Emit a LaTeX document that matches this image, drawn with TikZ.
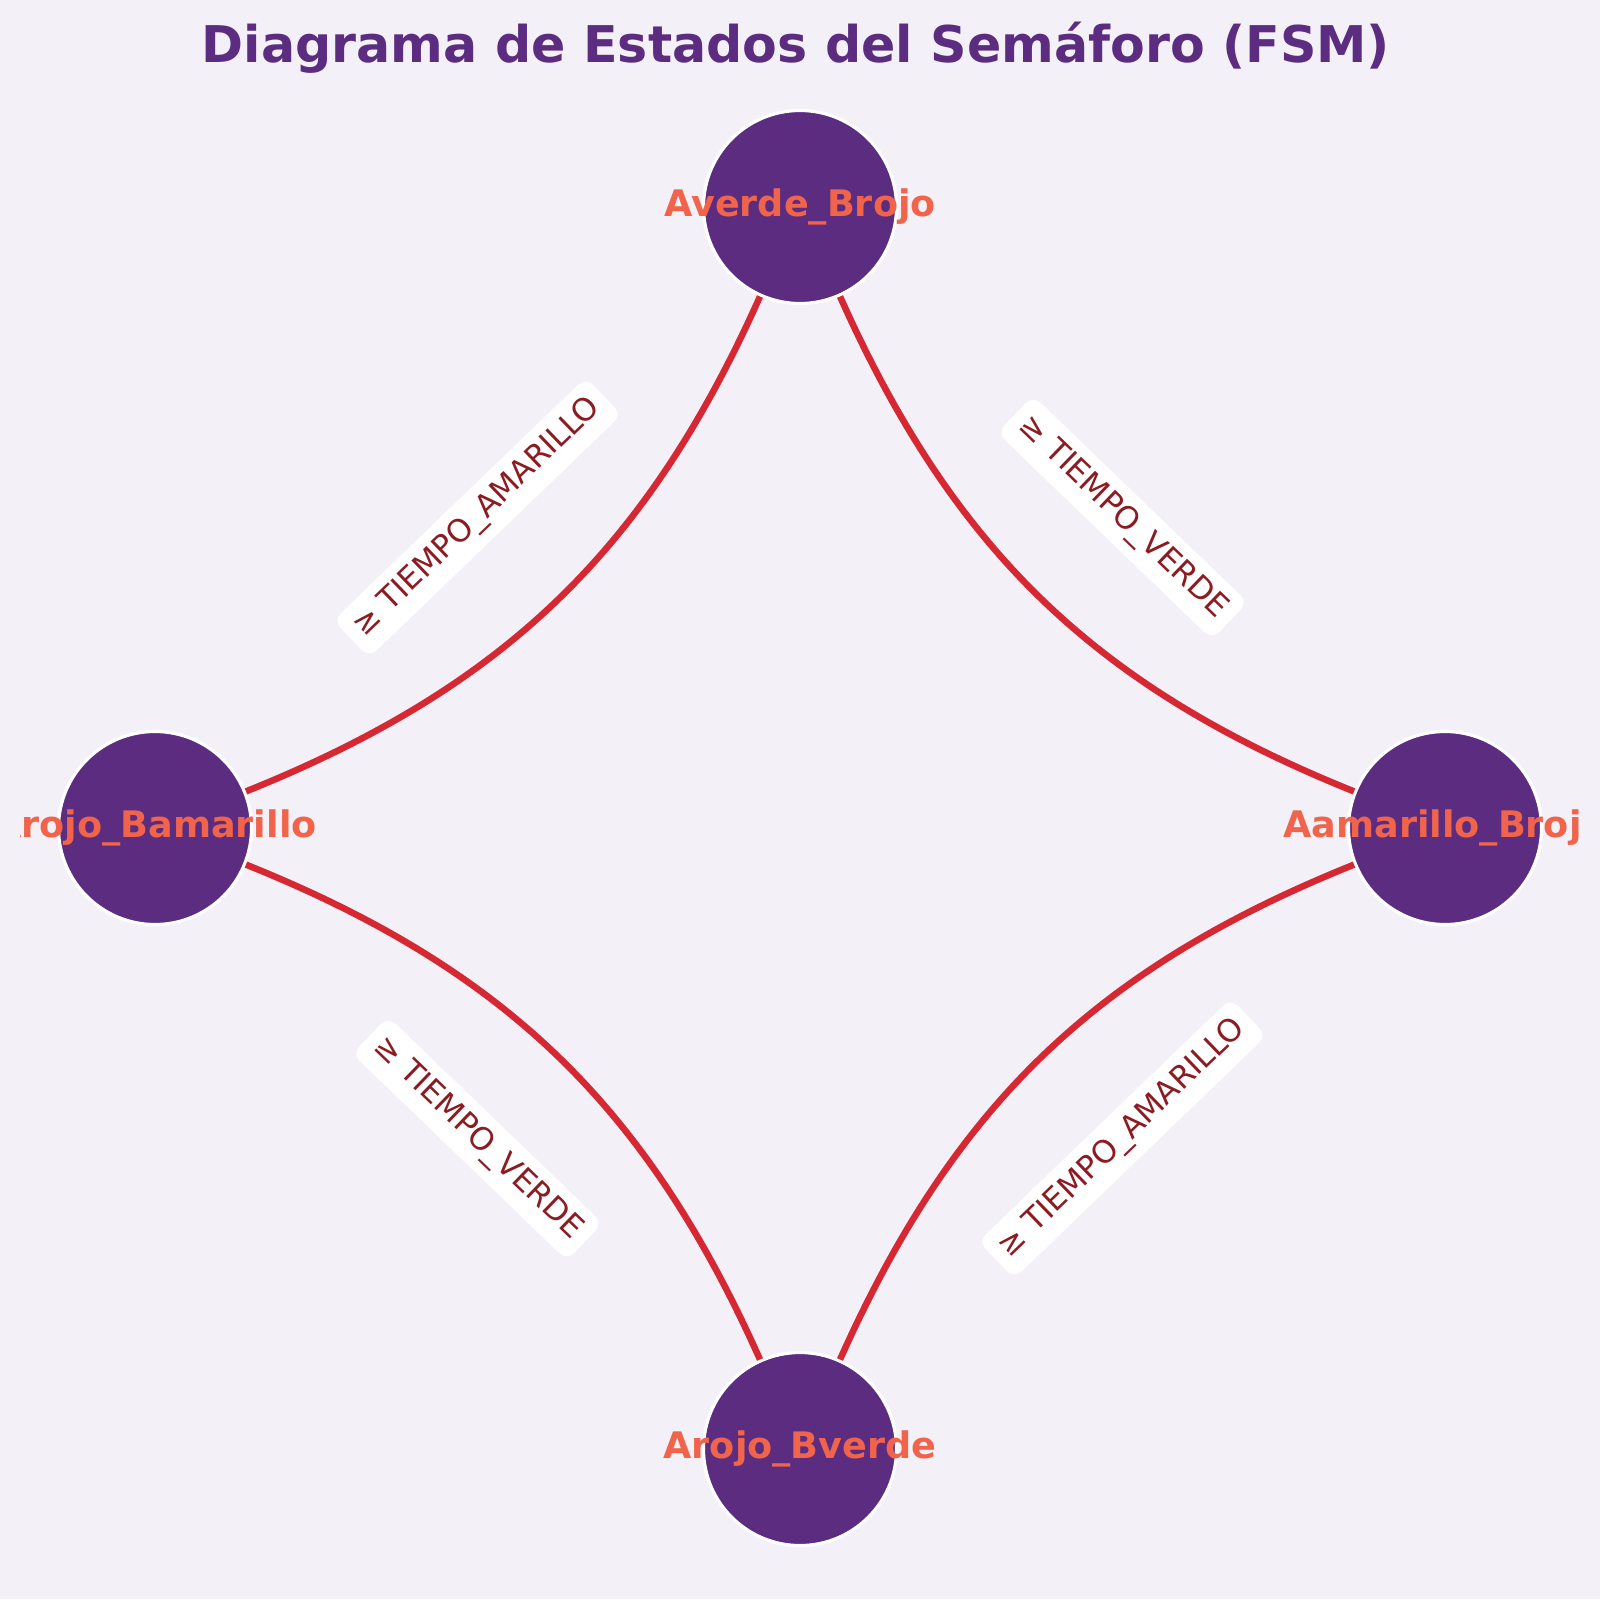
\documentclass[tikz,border=0pt]{standalone}
\usepackage{fontspec}
\setmainfont{DejaVu Sans}
\usepackage{tikz}
\usetikzlibrary{positioning}
\usetikzlibrary{shapes.geometric, arrows}
\definecolor{estado}{RGB}{91,44,127}
\definecolor{nombre}{RGB}{240,100,76}
\definecolor{linea}{RGB}{214,40,50}
\definecolor{condtxt}{RGB}{140,28,34}
\definecolor{fondo}{RGB}{243,240,248}
\tikzstyle{state} = [circle,fill=estado,draw=white,line width=0.9pt,minimum size=1.93cm,inner sep=0pt]
\tikzstyle{statename} = [text=nombre,font=\bfseries\fontsize{10.4}{12}\selectfont]
\tikzstyle{edge} = [linea,line width=1.85pt]
\tikzstyle{cond} = [fill=white,text=condtxt,rounded corners=3pt,inner sep=3pt,sloped,font=\fontsize{8.9}{10}\selectfont]

\begin{document}
\begin{tikzpicture}[on grid]
			\useasboundingbox[fill=fondo] (0,0) rectangle (16,-15.99);
			\begin{scope}
			\clip (0.2,0) rectangle (15.8,-15.99);
			%Title
			\node[text=estado,font=\bfseries\fontsize{14.4}{17}\selectfont,anchor=base] (titulo) at (7.96,-0.62) {Diagrama de Estados del Semáforo (FSM)};
			
			%Nodes
			\node[state,label={[statename]center:Averde\_Brojo}] (Verde) at (8,-2.07) {};
			\node[state,label={[statename]center:Aamarillo\_Brojo}, below right=6.21cm and 6.45cm of Verde] (Amarillo) {};
			\node[state,label={[statename]center:Arojo\_Bverde}, below=12.42cm of Verde] (RojoVerde) {};
			\node[state,label={[statename]center:Arojo\_Bamarillo}, below left=6.21cm and 6.45cm of Verde] (RojoAmarillo) {};
			
			%Lines
			\draw[edge] (Verde) to[bend right=22] (Amarillo);
			\draw[edge] (Amarillo) to[bend right=22] (RojoVerde);
			\draw[edge] (RojoVerde) to[bend right=22] (RojoAmarillo);
			\draw[edge] (RojoAmarillo) to[bend right=22] (Verde);
			
			%Conditions
			\path (Verde) -- node[cond] {≥ TIEMPO\_VERDE} (Amarillo);
			\path (Amarillo) -- node[cond] {≥ TIEMPO\_AMARILLO} (RojoVerde);
			\path (RojoVerde) -- node[cond] {≥ TIEMPO\_VERDE} (RojoAmarillo);
			\path (RojoAmarillo) -- node[cond] {≥ TIEMPO\_AMARILLO} (Verde);
			\end{scope}
		\end{tikzpicture}
\end{document}
